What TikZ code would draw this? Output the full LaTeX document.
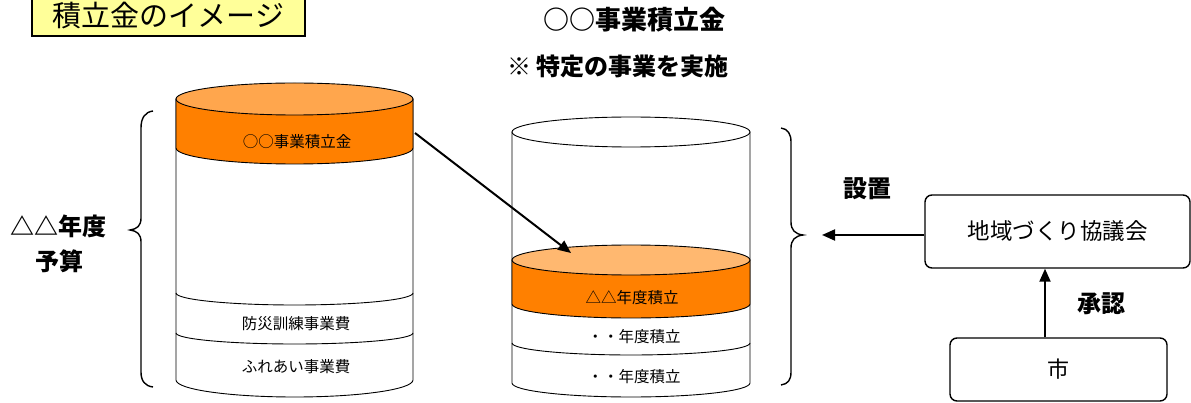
\documentclass[tikz,border=0pt]{standalone}
\usepackage{fontspec}
\setmainfont{Noto Sans CJK JP}
\usetikzlibrary{arrows.meta}
\definecolor{bandorange}{RGB}{255,128,0}
\definecolor{toporangeA}{RGB}{255,166,77}
\definecolor{toporangeB}{RGB}{255,184,112}
\definecolor{titleyellow}{RGB}{255,255,153}
\begin{document}
\begin{tikzpicture}[x=1pt,y=-1pt,
  cyl/.style={draw=black,line width=0.9pt},
  lbl/.style={font=\fontsize{15.5}{17}\selectfont,inner sep=0pt},
  boldlbl/.style={font=\fontsize{24}{26}\selectfont\bfseries,inner sep=0pt,align=center},
  rbox/.style={draw=black,line width=1.4pt,rounded corners=7pt,fill=white},
  arr/.style={line width=2pt,-{Triangle[length=13pt,width=11pt]}},
  brace/.style={line width=1.4pt}]
\useasboundingbox (0,0) rectangle (1191,403);

% title box
\node[draw=black,line width=1.4pt,fill=titleyellow,minimum width=273pt,minimum height=40pt,inner sep=0pt,
  font=\fontsize{29}{31}\selectfont] (title) at (168.5,16) {積立金のイメージ};

% ---------- left cylinder ----------
\path[cyl,fill=white] (176,99) -- (176,380) arc[start angle=180,end angle=360,x radius=118.5pt,y radius=17pt] -- (413,99) -- cycle;
\path[cyl,fill=bandorange] (176,99) -- (176,148) arc[start angle=180,end angle=360,x radius=118.5pt,y radius=16pt] -- (413,99) -- cycle;
\draw[cyl,fill=toporangeA] (294.5,99) ellipse[x radius=118.5pt,y radius=16pt];
\draw[cyl] (176,293) arc[start angle=180,end angle=360,x radius=118.5pt,y radius=12pt];
\draw[cyl] (176,333) arc[start angle=180,end angle=360,x radius=118.5pt,y radius=11pt];
\node[lbl] (lband) at (297,142) {○○事業積立金};
\node[lbl] (lbosai) at (296,324) {防災訓練事業費};
\node[lbl] (lfure) at (296,367) {ふれあい事業費};
\coordinate (arrstart) at (415,133);

% ---------- middle cylinder ----------
\path[cyl,fill=white] (512,132) -- (512,383) arc[start angle=180,end angle=360,x radius=119pt,y radius=14pt] -- (750,132) -- cycle;
\draw[cyl,fill=white] (631,132) ellipse[x radius=119pt,y radius=15pt];
\path[cyl,fill=bandorange] (512,260) -- (512,304) arc[start angle=180,end angle=360,x radius=119pt,y radius=14pt] -- (750,260) -- cycle;
\draw[cyl,fill=toporangeB] (631,260) ellipse[x radius=119pt,y radius=15pt];
\draw[cyl] (512,343) arc[start angle=180,end angle=360,x radius=119pt,y radius=12pt];
\node[lbl] (mband) at (632,298) {△△年度積立};
\node[lbl] (m2) at (634,337) {・・年度積立};
\node[lbl] (m3) at (634,377) {・・年度積立};
\coordinate (arrend) at (571,253);

\draw[arr] (arrstart) -- (arrend);

% header
\node[font=\fontsize{26}{28}\selectfont\bfseries,inner sep=0pt] (head1) at (634,20) {○○事業積立金};
\node[font=\fontsize{24}{26}\selectfont\bfseries,inner sep=0pt] (head2) at (618,66) {※ 特定の事業を実施};

% left brace and label
\draw[brace] (153,111) .. controls (145,112) and (141,118) .. (141,128) -- (141,218)
  .. controls (141,226) and (137,229) .. (130,230)
  .. controls (137,231) and (141,234) .. (141,242) -- (141,372)
  .. controls (141,381) and (145,386) .. (153,387);
\node[boldlbl] (budget1) at (58,226) {△△年度};
\node[boldlbl] (budget2) at (59,261) {予算};

% right brace
\draw[brace] (781,128) .. controls (788,129) and (791,134) .. (791,142) -- (791,222)
  .. controls (791,230) and (795,234) .. (803,235)
  .. controls (795,236) and (791,240) .. (791,248) -- (791,372)
  .. controls (791,380) and (788,384) .. (781,385);

% right boxes
\node[rbox,minimum width=265pt,minimum height=73pt,inner sep=0pt,font=\fontsize{22.5}{24}\selectfont] (kyogikai) at (1057.5,231.5) {地域づくり協議会};
\node[rbox,minimum width=217pt,minimum height=63pt,inner sep=0pt,font=\fontsize{22}{24}\selectfont] (shi) at (1058.5,369.5) {市};

\coordinate (settip) at (822,235);
\draw[arr] (kyogikai.west |- settip) -- (settip);
\draw[arr] ([xshift=-13.5pt]shi.north) -- ([xshift=-13.5pt]shi.north |- kyogikai.south);

\node[boldlbl] (setchi) at (867,189) {設置};
\node[boldlbl] (shonin) at (1101,304) {承認};
\end{tikzpicture}
\end{document}
